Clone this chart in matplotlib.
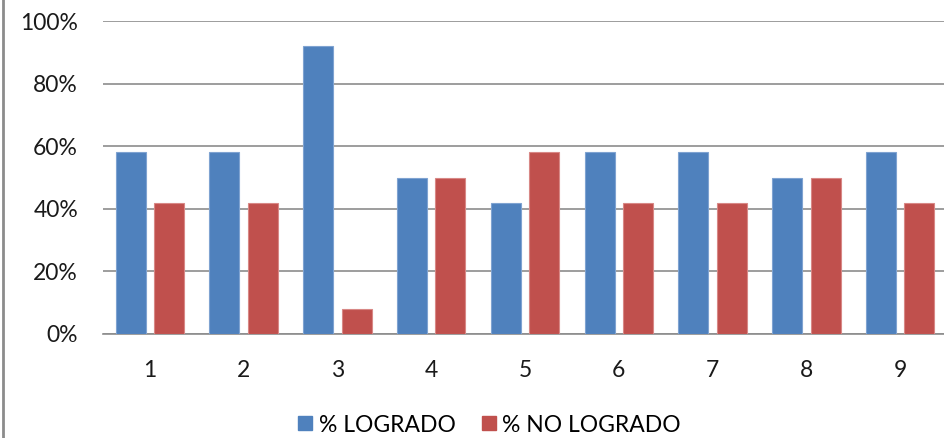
import matplotlib
matplotlib.use("Agg")
import matplotlib.pyplot as plt
import numpy as np
from matplotlib.lines import Line2D
from matplotlib.ticker import FuncFormatter

categories = ["1", "2", "3", "4", "5", "6", "7", "8", "9"]
logrado = [58, 58, 92, 50, 42, 58, 58, 50, 58]
no_logrado = [42, 42, 8, 50, 58, 42, 42, 50, 42]
yticks = [0, 20, 40, 60, 80, 100]

plt.rcParams['font.family'] = ['Lato', 'DejaVu Sans']

W, H = 944, 438
fig = plt.figure(figsize=(W / 100, H / 100), dpi=100)
fig.patch.set_facecolor("white")

left, right, top, bottom = 103, 947, 21, 334
ax = fig.add_axes([left / W, 1 - bottom / H, (right - left) / W, (bottom - top) / H])

x = np.arange(len(categories))
bw = 0.32
off = 0.205
blue = "#4F81BD"
red = "#C0504D"
ax.bar(x - off, logrado, bw, color=blue, edgecolor="#7FA3D1", linewidth=0.8, zorder=3,
       label="% LOGRADO")
ax.bar(x + off, no_logrado, bw, color=red, edgecolor="#D88886", linewidth=0.8, zorder=3,
       label="% NO LOGRADO")

ax.set_xlim(-0.5, len(categories) - 0.5)
ax.set_ylim(0, 100)
ax.set_yticks(yticks)
ax.yaxis.set_major_formatter(FuncFormatter(lambda v, p: f"{int(v)}%"))
ax.set_xticks(x)
ax.set_xticklabels(categories)
ax.grid(axis="y", color="#8C8C8C", linewidth=1.2, zorder=0)
ax.set_axisbelow(True)
for s in ["top", "right", "left"]:
    ax.spines[s].set_visible(False)
ax.spines["bottom"].set_color("#8C8C8C")
ax.spines["bottom"].set_linewidth(1.2)
ax.tick_params(axis="y", length=0, pad=18, labelsize=16.5, labelcolor="#1a1a1a")
ax.tick_params(axis="x", length=0, pad=19, labelsize=16.5, labelcolor="#1a1a1a")

handles = [
    Line2D([], [], marker="s", linestyle="none", markersize=10.5, color=blue, label="% LOGRADO"),
    Line2D([], [], marker="s", linestyle="none", markersize=10.5, color=red, label="% NO LOGRADO"),
]
fig.legend(handles=handles, loc="center", bbox_to_anchor=(489 / W, 1 - 425 / H),
           ncol=2, frameon=False, fontsize=16.5, handletextpad=0.25, columnspacing=1.1,
           handlelength=0.7)

fig.add_artist(Line2D([2.5 / W, 2.5 / W], [0, 1], color="#8C8C8C", linewidth=2,
                      transform=fig.transFigure))

fig.savefig("out.png", dpi=100, facecolor="white")
